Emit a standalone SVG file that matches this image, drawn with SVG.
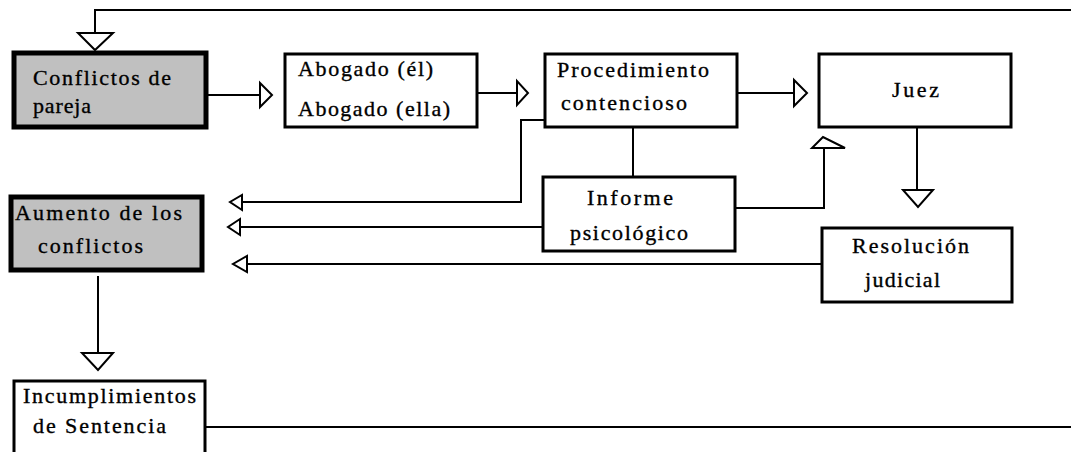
<svg xmlns="http://www.w3.org/2000/svg" width="1071" height="452" viewBox="0 0 1071 452" font-family="Liberation Serif, Times New Roman, serif" font-size="22">
  <style>
    .box { fill: #ffffff; stroke: #000000; stroke-width: 3; }
    .hot { fill: #c0c0c0; stroke: #000000; stroke-width: 5; }
    .ln { fill: none; stroke: #000000; stroke-width: 2; }
    .hd { fill: #ffffff; stroke: #000000; stroke-width: 2; stroke-linejoin: miter; }
    text { fill: #000000; stroke: #000000; stroke-width: 0.35; }
  </style>
  <rect width="1071" height="452" fill="#ffffff"/>

  <!-- connectors -->
  <g id="connectors">
    <!-- feedback loop: incumplimientos back to conflictos -->
    <polyline class="ln" points="1071,10 95,10 95,33"/>
    <polygon class="hd" points="78,33 113,33 95,50"/>
    <polyline class="ln" points="205,427 1071,427"/>
    <!-- conflictos -> abogados -->
    <line class="ln" x1="208" y1="95" x2="260" y2="95"/>
    <polygon class="hd" points="260,83 260,107 272,95"/>
    <!-- abogados -> procedimiento -->
    <line class="ln" x1="477" y1="93" x2="517" y2="93"/>
    <polygon class="hd" points="517,81 517,105 528,93"/>
    <!-- procedimiento -> juez -->
    <line class="ln" x1="737" y1="93" x2="794" y2="93"/>
    <polygon class="hd" points="794,80 794,106 807,93"/>
    <!-- procedimiento -> informe -->
    <line class="ln" x1="633" y1="127" x2="633" y2="177"/>
    <!-- procedimiento -> aumento -->
    <polyline class="ln" points="545,120 521,120 521,202 242,202"/>
    <polygon class="hd" points="242,195 242,210 230,202"/>
    <!-- informe -> aumento -->
    <line class="ln" x1="543" y1="227" x2="240" y2="227"/>
    <polygon class="hd" points="240,219 240,235 228,227"/>
    <!-- informe -> juez -->
    <polyline class="ln" points="735,208 824,208 824,148"/>
    <polygon class="hd" points="812,148 845,148 823,137"/>
    <!-- juez -> resolucion -->
    <line class="ln" x1="917" y1="127" x2="917" y2="190"/>
    <polygon class="hd" points="903,190 933,190 918,207"/>
    <!-- resolucion -> aumento -->
    <line class="ln" x1="822" y1="264" x2="247" y2="264"/>
    <polygon class="hd" points="247,256 247,272 233,264"/>
    <!-- aumento -> incumplimientos -->
    <line class="ln" x1="98" y1="276" x2="98" y2="353"/>
    <polygon class="hd" points="82,353 113,353 98,370"/>
  </g>

  <g id="conflictos">
    <rect class="hot" x="14" y="53" width="192" height="74"/>
    <text x="33" y="85" textLength="138" lengthAdjust="spacing">Conflictos de</text>
    <text x="33" y="113" textLength="58" lengthAdjust="spacing">pareja</text>
  </g>

  <g id="abogados">
    <rect class="box" x="285" y="54" width="192" height="73"/>
    <text x="298" y="76" textLength="135" lengthAdjust="spacing">Abogado (él)</text>
    <text x="298" y="116" textLength="152" lengthAdjust="spacing">Abogado (ella)</text>
  </g>

  <g id="procedimiento">
    <rect class="box" x="545" y="54" width="192" height="73"/>
    <text x="557" y="77" textLength="152" lengthAdjust="spacing">Procedimiento</text>
    <text x="561" y="110" textLength="126" lengthAdjust="spacing">contencioso</text>
  </g>

  <g id="juez">
    <rect class="box" x="819" y="54" width="192" height="73"/>
    <text x="892" y="97" textLength="47" lengthAdjust="spacing">Juez</text>
  </g>

  <g id="informe">
    <rect class="box" x="543" y="177" width="192" height="74"/>
    <text x="587" y="205" textLength="86" lengthAdjust="spacing">Informe</text>
    <text x="570" y="240" textLength="118" lengthAdjust="spacing">psicológico</text>
  </g>

  <g id="resolucion">
    <rect class="box" x="822" y="228" width="190" height="74"/>
    <text x="852" y="253" textLength="117" lengthAdjust="spacing">Resolución</text>
    <text x="865" y="287" textLength="75" lengthAdjust="spacing">judicial</text>
  </g>

  <g id="aumento">
    <rect class="hot" x="11" y="197" width="191" height="73"/>
    <text x="15" y="220" textLength="167" lengthAdjust="spacing">Aumento de los</text>
    <text x="38" y="253" textLength="105" lengthAdjust="spacing">conflictos</text>
  </g>

  <g id="incumplimientos">
    <rect class="box" x="14" y="381" width="191" height="80"/>
    <text x="23" y="403" textLength="173" lengthAdjust="spacing">Incumplimientos</text>
    <text x="33" y="433" textLength="133" lengthAdjust="spacing">de Sentencia</text>
  </g>
</svg>
